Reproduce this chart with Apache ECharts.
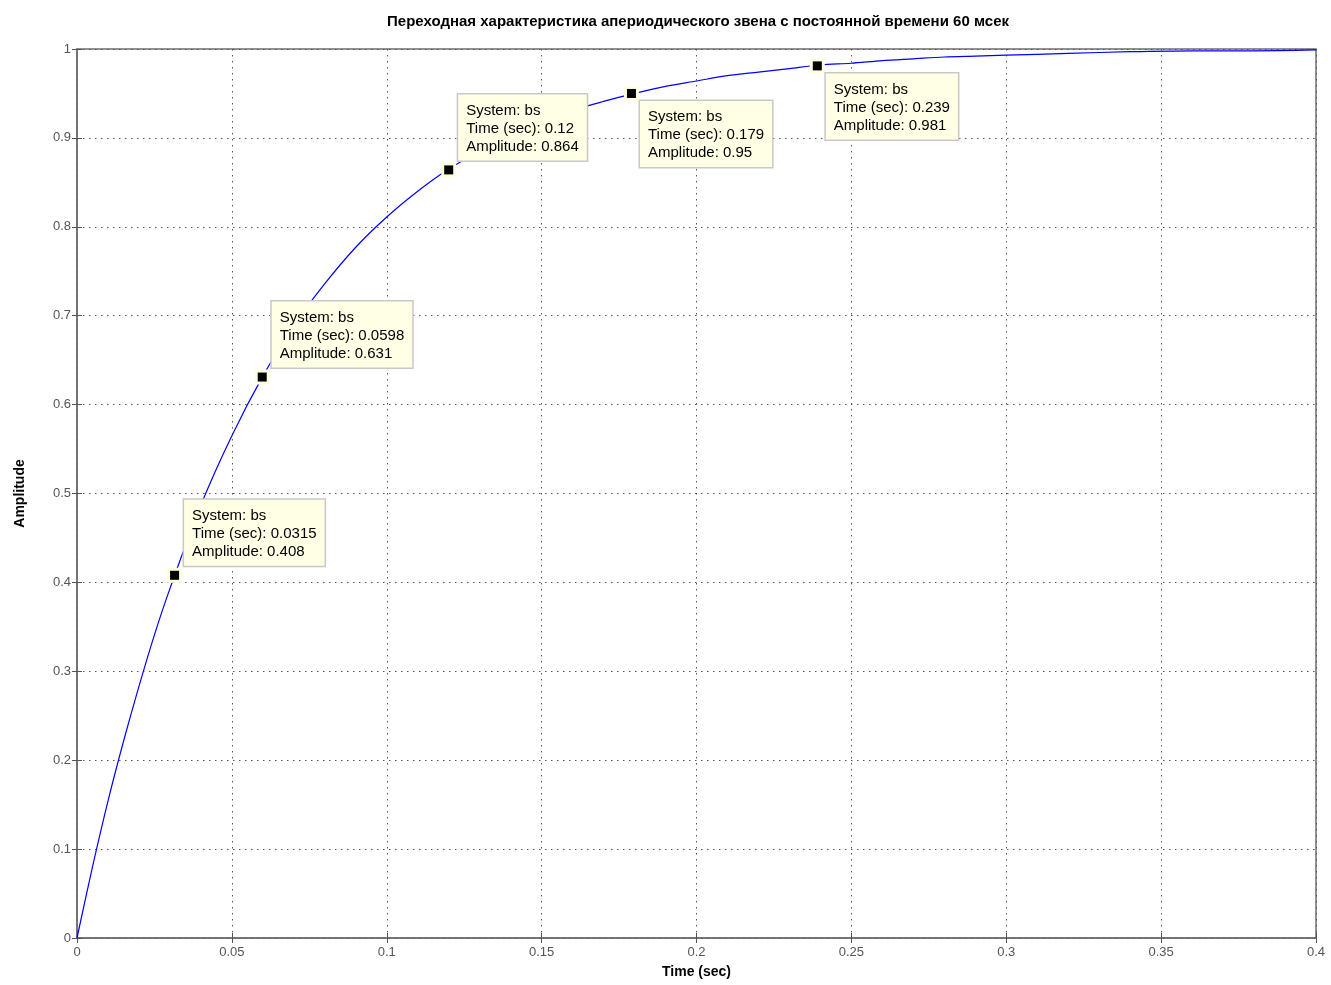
<!DOCTYPE html>
<html>
<head>
<meta charset="utf-8">
<script src="https://cdn.jsdelivr.net/npm/echarts@6/dist/echarts.min.js"></script>
<style>
  html, body { margin: 0; padding: 0; background: #fff; }
  #chart { width: 1331px; height: 985px; }
</style>
</head>
<body>
<div id="chart"></div>
<script>
// Step response samples: time (sec) and amplitude
const timeSec = [0, 0.005, 0.01, 0.015, 0.02, 0.025, 0.03, 0.04, 0.05, 0.06, 0.07, 0.08, 0.09, 0.10,
  0.11, 0.12, 0.13, 0.14, 0.15, 0.16, 0.17, 0.18, 0.19, 0.20, 0.21, 0.22, 0.23, 0.24,
  0.25, 0.26, 0.27, 0.28, 0.29, 0.30, 0.32, 0.34, 0.36, 0.38, 0.40];
const amplitude = [0, 0.080, 0.154, 0.221, 0.283, 0.341, 0.393, 0.487, 0.565, 0.632, 0.689, 0.736, 0.777, 0.811,
  0.840, 0.865, 0.885, 0.903, 0.918, 0.931, 0.941, 0.950, 0.958, 0.964, 0.970, 0.974, 0.978, 0.982,
  0.984, 0.987, 0.989, 0.991, 0.992, 0.993, 0.995, 0.997, 0.998, 0.998, 0.999];

// Data tips
const tipSystem = 'bs';
const tipTime = [0.0315, 0.0598, 0.12, 0.179, 0.239];
const tipAmp = [0.408, 0.631, 0.864, 0.95, 0.981];
const tipBelow = [false, false, false, true, true];

const xTicks = ['0', '0.05', '0.1', '0.15', '0.2', '0.25', '0.3', '0.35', '0.4'];
const yTicks = ['0', '0.1', '0.2', '0.3', '0.4', '0.5', '0.6', '0.7', '0.8', '0.9', '1'];

const FONT = 'Liberation Sans Narrow, Liberation Sans, Arial, sans-serif';

const chart = echarts.init(document.getElementById('chart'));

const gridLine = { show: true, lineStyle: { color: '#555', width: 1, type: [1.5, 4.5] } };
const tickStyle = { show: true, inside: true, length: 5, lineStyle: { color: '#555', width: 1 } };

function fmtTick(list, step) {
  return function (v) {
    const i = Math.round(v / step);
    return list[i] !== undefined ? list[i] : '';
  };
}

const tipPoints = tipTime.map(function (t, i) { return [t, tipAmp[i]]; });

// Label boxes sit up-right of the marker, or down-right for the last tips
const tipData = tipPoints.map(function (pt, i) {
  const below = tipBelow[i];
  return {
    value: pt,
    label: {
      position: below ? [13, 12] : [14, -5],
      verticalAlign: below ? 'top' : 'bottom'
    }
  };
});

chart.setOption({
  animation: false,
  backgroundColor: '#fff',
  title: {
    text: 'Переходная характеристика апериодического звена с постоянной времени 60 мсек',
    left: 693, top: 9, textAlign: 'center',
    textStyle: { fontFamily: FONT, fontSize: 15, fontWeight: 'bold', color: '#000' }
  },
  grid: {
    left: 77, right: 15, top: 49, bottom: 47,
    show: true, borderColor: '#6e6e6e', borderWidth: 1.5, backgroundColor: 'transparent'
  },
  xAxis: [{
    type: 'value', min: 0, max: 0.4, interval: 0.05,
    name: 'Time (sec)', nameLocation: 'middle', nameGap: 27,
    nameTextStyle: { fontFamily: FONT, fontSize: 14, fontWeight: 'bold', color: '#000' },
    axisLine: { show: true, lineStyle: { color: '#6e6e6e', width: 1.5 } },
    axisTick: tickStyle,
    axisLabel: { fontFamily: FONT, fontSize: 13, color: '#555', margin: 8, formatter: fmtTick(xTicks, 0.05) },
    splitLine: gridLine
  }, {
    type: 'value', min: 0, max: 0.4, interval: 0.05, position: 'top',
    axisLine: { show: false }, axisTick: tickStyle, axisLabel: { show: false }, splitLine: { show: false }
  }],
  yAxis: [{
    type: 'value', min: 0, max: 1, interval: 0.1,
    name: 'Amplitude', nameLocation: 'middle', nameGap: 50,
    nameTextStyle: { fontFamily: FONT, fontSize: 14, fontWeight: 'bold', color: '#000' },
    axisLine: { show: true, lineStyle: { color: '#6e6e6e', width: 1.5 } },
    axisTick: tickStyle,
    axisLabel: { fontFamily: FONT, fontSize: 13, color: '#555', margin: 6, formatter: fmtTick(yTicks, 0.1) },
    splitLine: gridLine
  }, {
    type: 'value', min: 0, max: 1, interval: 0.1, position: 'right',
    axisLine: { show: false }, axisTick: tickStyle, axisLabel: { show: false }, splitLine: { show: false }
  }],
  series: [{
    name: tipSystem,
    type: 'line',
    data: timeSec.map(function (t, i) { return [t, amplitude[i]]; }),
    smooth: 0.3,
    showSymbol: false,
    lineStyle: { color: '#0000ff', width: 1.2 },
    z: 3
  }, {
    // pale halo behind each data-tip marker
    type: 'scatter',
    data: tipPoints,
    symbol: 'rect',
    symbolSize: 15,
    itemStyle: { color: '#ffffe0', opacity: 1 },
    silent: true,
    z: 4
  }, {
    type: 'scatter',
    data: tipData,
    symbol: 'rect',
    symbolSize: 9,
    itemStyle: { color: '#000', opacity: 1 },
    label: {
      show: true,
      align: 'left',
      formatter: function (p) {
        const i = p.dataIndex;
        return 'System: ' + tipSystem + '\nTime (sec): ' + tipTime[i] + '\nAmplitude: ' + tipAmp[i];
      },
      fontFamily: FONT, fontSize: 15, color: '#000', lineHeight: 18,
      backgroundColor: '#ffffe6', borderColor: '#c8c8c8', borderWidth: 1.5,
      padding: [7, 8, 5, 8]
    },
    z: 5
  }]
});
</script>
</body>
</html>
